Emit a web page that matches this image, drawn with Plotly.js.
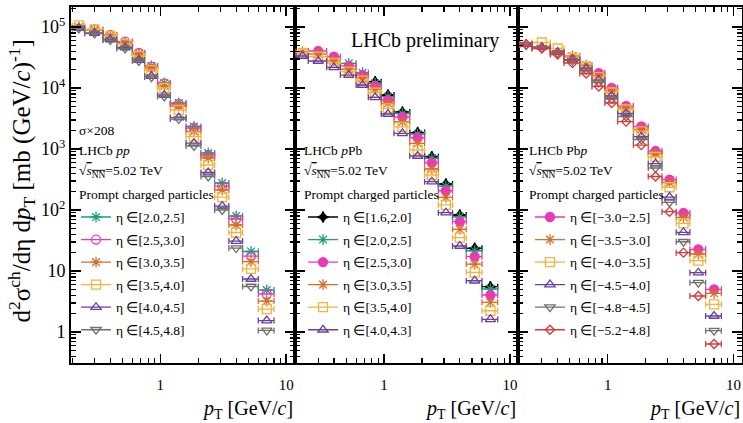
<!DOCTYPE html>
<html>
<head>
<meta charset="utf-8">
<script src="https://cdn.plot.ly/plotly-3.0.1.min.js"></script>
<style>html,body{margin:0;padding:0;background:#fff;}#plot{width:743px;height:423px;}</style>
</head>
<body>
<div id="plot"></div>
<script>
// pT bins [GeV/c]
const ptLow  = [0.2, 0.25, 0.35, 0.45, 0.6, 0.75, 0.95, 1.2, 1.6, 2.1, 2.7, 3.5, 4.5, 6.0];
const ptHigh = [0.25, 0.35, 0.45, 0.6, 0.75, 0.95, 1.2, 1.6, 2.1, 2.7, 3.5, 4.5, 6.0, 8.0];

// pp (sigma x 208)
const pp_eta20_25 = [null, null, null, 5.5e4, 3.7e4, 2.30e4, 1.21e4, 5680, 2340, 860, 277, 79.8, 20.9, 4.88];
const pp_eta25_30 = [null, 9.1e4, 7.4e4, 5.78e4, 3.75e4, 2.25e4, 1.19e4, 5470, 2210, 797, 247, 71.2, 17.6, 4.20];
const pp_eta30_35 = [1.0e5, 8.93e4, 7.26e4, 5.47e4, 3.54e4, 2.13e4, 1.08e4, 5070, 1940, 712, 213, 56.8, 14.3, 3.22];
const pp_eta35_40 = [1.06e5, 9.1e4, 7.12e4, 5.26e4, 3.35e4, 1.97e4, 1.0e4, 4360, 1600, 547, 163, 42.8, 10.8, 2.38];
const pp_eta40_45 = [9.63e4, 7.98e4, 6.24e4, 4.61e4, 2.88e4, 1.57e4, 7670, 3280, 1250, 412, 116, 31.0, 7.39, 1.54];
const pp_eta45_48 = [9.45e4, 7.82e4, 6.12e4, 4.44e4, 2.77e4, 1.51e4, 7260, 3100, 1120, 354, 100, 23.8, 5.57, 1.06];

// pPb
const pPb_eta16_20 = [null, null, null, null, null, 1.27e4, 7670, 4040, 1860, 748, 267, 82.8, 23.6, 5.53];
const pPb_eta20_25 = [null, null, null, 2.54e4, 1.78e4, 1.19e4, 7200, 3820, 1760, 704, 247, 77.6, 21.5, 5.07];
const pPb_eta25_30 = [null, 4.04e4, 3.26e4, 2.30e4, 1.63e4, 1.08e4, 6360, 3350, 1530, 596, 207, 64.3, 17.2, 4.04];
const pPb_eta30_35 = [3.94e4, 3.61e4, 2.80e4, 2.03e4, 1.44e4, 9520, 5610, 2800, 1240, 470, 161, 48.3, 13.0, 3.07];
const pPb_eta35_40 = [3.68e4, 3.26e4, 2.57e4, 1.85e4, 1.32e4, 8380, 4650, 2300, 963, 375, 121, 35.2, 9.52, 2.23];
const pPb_eta40_43 = [3.35e4, 2.77e4, 2.18e4, 1.63e4, 1.12e4, 7040, 3750, 1810, 768, 291, 90.3, 25.7, 6.93, 1.61];

// Pbp
const Pbp_etam30_25 = [null, null, null, null, null, 1.76e4, 1.0e4, 5070, 2340, 927, 316, 89.3, 22.7, 5.01];
const Pbp_etam35_30 = [null, null, null, 3.35e4, 2.38e4, 1.60e4, 9100, 4700, 2090, 844, 282, 75.9, 19.0, 4.31];
const Pbp_etam40_35 = [null, 5.57e4, 4.44e4, 3.16e4, 2.25e4, 1.51e4, 8440, 4440, 1940, 739, 236, 60.5, 14.8, 2.84];
const Pbp_etam45_40 = [5.26e4, 4.70e4, 3.89e4, 2.93e4, 2.09e4, 1.35e4, 7390, 3820, 1600, 578, 163, 43.1, 9.38, 1.83];
const Pbp_etam48_45 = [5.07e4, 4.53e4, 3.75e4, 2.82e4, 1.97e4, 1.23e4, 6600, 3410, 1430, 488, 133, 30.2, 6.43, 1.05];
const Pbp_etam52_48 = [5.16e4, 4.44e4, 3.54e4, 2.57e4, 1.73e4, 1.06e4, 5680, 2820, 1160, 354, 93.8, 20.0, 3.89, 0.636];

// legend labels
const ppNames  = ['η ∈[2.0,2.5]', 'η ∈[2.5,3.0]', 'η ∈[3.0,3.5]', 'η ∈[3.5,4.0]', 'η ∈[4.0,4.5]', 'η ∈[4.5,4.8]'];
const pPbNames = ['η ∈[1.6,2.0]', 'η ∈[2.0,2.5]', 'η ∈[2.5,3.0]', 'η ∈[3.0,3.5]', 'η ∈[3.5,4.0]', 'η ∈[4.0,4.3]'];
const PbpNames = ['η ∈[−3.0−2.5]', 'η ∈[−3.5−3.0]', 'η ∈[−4.0−3.5]', 'η ∈[−4.5−4.0]', 'η ∈[−4.8−4.5]', 'η ∈[−5.2−4.8]'];

// tick labels
const xTickVals = [1, 10];
const xTickText = ['1', '10'];
const xMinorVals = [0.2, 0.3, 0.4, 0.5, 0.6, 0.7, 0.8, 0.9, 2, 3, 4, 5, 6, 7, 8, 9];
const yTickVals = [1, 10, 100, 1000, 10000, 100000];
const yTickText = ['1', '10', '10<sup>2</sup>', '10<sup>3</sup>', '10<sup>4</sup>', '10<sup>5</sup>'];
const yMinorVals = [0.4, 0.5, 0.6, 0.7, 0.8, 0.9,
  2, 3, 4, 5, 6, 7, 8, 9,
  20, 30, 40, 50, 60, 70, 80, 90,
  200, 300, 400, 500, 600, 700, 800, 900,
  2000, 3000, 4000, 5000, 6000, 7000, 8000, 9000,
  20000, 30000, 40000, 50000, 60000, 70000, 80000, 90000, 200000];

const C = {
  green: '#1b9e77', magenta: '#e83ab5', orange: '#d96d2b', yellow: '#f2b43a',
  purple: '#6b3fa0', gray: '#707070', black: '#000000', red: '#d73b3b'
};

const ptCenter = ptLow.map((lo, i) => (lo + ptHigh[i]) / 2);
const ptHalf = ptLow.map((lo, i) => (ptHigh[i] - lo) / 2);

const traces = [];
function addSeries(xa, ya, y, name, color, symbol, size, legendId) {
  const marker = {symbol: symbol, size: size, color: color, line: {color: color, width: 1.3}};
  traces.push({
    type: 'scatter', mode: 'markers', x: ptCenter, y: y, xaxis: xa, yaxis: ya,
    error_x: {type: 'data', symmetric: true, array: ptHalf, color: color, thickness: 1.3, width: 3},
    marker: marker, showlegend: false, hoverinfo: 'skip'
  });
  traces.push({
    type: 'scatter', mode: 'lines+markers', x: [null], y: [null], xaxis: xa, yaxis: ya,
    name: name, legend: legendId, legendgroup: legendId + name,
    line: {color: color, width: 1.3}, marker: marker, hoverinfo: 'skip'
  });
}

addSeries('x', 'y', pp_eta20_25, ppNames[0], C.green, 'asterisk-open', 9, 'legend');
addSeries('x', 'y', pp_eta25_30, ppNames[1], C.magenta, 'circle-open', 9, 'legend');
addSeries('x', 'y', pp_eta30_35, ppNames[2], C.orange, 'asterisk-open', 9, 'legend');
addSeries('x', 'y', pp_eta35_40, ppNames[3], C.yellow, 'square-open', 9, 'legend');
addSeries('x', 'y', pp_eta40_45, ppNames[4], C.purple, 'triangle-up-open', 9, 'legend');
addSeries('x', 'y', pp_eta45_48, ppNames[5], C.gray, 'triangle-down-open', 9, 'legend');

addSeries('x2', 'y2', pPb_eta16_20, pPbNames[0], C.black, 'star-diamond', 8, 'legend2');
addSeries('x2', 'y2', pPb_eta20_25, pPbNames[1], C.green, 'asterisk-open', 9, 'legend2');
addSeries('x2', 'y2', pPb_eta25_30, pPbNames[2], C.magenta, 'circle', 9, 'legend2');
addSeries('x2', 'y2', pPb_eta30_35, pPbNames[3], C.orange, 'asterisk-open', 9, 'legend2');
addSeries('x2', 'y2', pPb_eta35_40, pPbNames[4], C.yellow, 'square-open', 9, 'legend2');
addSeries('x2', 'y2', pPb_eta40_43, pPbNames[5], C.purple, 'triangle-up-open', 9, 'legend2');

addSeries('x3', 'y3', Pbp_etam30_25, PbpNames[0], C.magenta, 'circle', 9, 'legend3');
addSeries('x3', 'y3', Pbp_etam35_30, PbpNames[1], C.orange, 'asterisk-open', 9, 'legend3');
addSeries('x3', 'y3', Pbp_etam40_35, PbpNames[2], C.yellow, 'square-open', 9, 'legend3');
addSeries('x3', 'y3', Pbp_etam45_40, PbpNames[3], C.purple, 'triangle-up-open', 9, 'legend3');
addSeries('x3', 'y3', Pbp_etam48_45, PbpNames[4], C.gray, 'triangle-down-open', 9, 'legend3');
addSeries('x3', 'y3', Pbp_etam52_48, PbpNames[5], C.red, 'diamond-open', 7, 'legend3');

const FONT = 'Liberation Serif, Times New Roman, serif';

function xAxis(domain, anchor) {
  return {
    type: 'log', range: [-0.71, 1.067], domain: domain, anchor: anchor,
    tickmode: 'array', tickvals: xTickVals, ticktext: xTickText,
    ticks: 'inside', ticklen: 9, tickwidth: 1.5, tickcolor: '#000',
    ticklabelstandoff: 7,
    minor: {tickmode: 'array', tickvals: xMinorVals, ticks: 'inside', ticklen: 5, tickwidth: 1.2, tickcolor: '#000', showgrid: false},
    showline: true, linewidth: 2, linecolor: '#000', mirror: 'allticks',
    showgrid: false, zeroline: false, tickfont: {size: 15, family: FONT, color: '#000'}
  };
}
function yAxis(anchor, labels) {
  return {
    type: 'log', range: [-0.508, 5.328], anchor: anchor,
    tickmode: 'array', tickvals: yTickVals, ticktext: yTickText,
    ticks: 'inside', ticklen: 10, tickwidth: 1.5, tickcolor: '#000',
    showticklabels: labels,
    minor: {tickmode: 'array', tickvals: yMinorVals, ticks: 'inside', ticklen: 5, tickwidth: 1.2, tickcolor: '#000', showgrid: false},
    showline: true, linewidth: 2, linecolor: '#000', mirror: 'allticks',
    showgrid: false, zeroline: false, tickfont: {size: 18, family: FONT, color: '#000'}
  };
}

function legendAt(x) {
  return {x: x, y: 0.453, xanchor: 'left', yanchor: 'top', bgcolor: 'rgba(0,0,0,0)',
    borderwidth: 0, font: {size: 13.5, family: FONT, color: '#000'}, tracegroupgap: 2, itemwidth: 30};
}

const textSize = 13.5;
function txt(x, y, t, size) {
  return {xref: 'paper', yref: 'paper', x: x, y: y, xanchor: 'left', yanchor: 'middle',
    text: t, showarrow: false, font: {size: size || textSize, family: FONT, color: '#000'}};
}
const sqrtS = '√<span style="text-decoration:overline"><i>s</i><sub>NN</sub></span>=5.02 TeV';
// paper y from pixel: (363 - py)/356 ; paper x: (px - 71)/671
const annotations = [
  txt(0.0089, 0.653, 'σ×208'),
  txt(0.0089, 0.598, 'LHCb <i>pp</i>'),
  txt(0.0089, 0.537, sqrtS),
  txt(0.0089, 0.472, 'Prompt charged particles'),
  txt(0.3438, 0.598, 'LHCb <i>p</i>Pb'),
  txt(0.3438, 0.537, sqrtS),
  txt(0.3438, 0.472, 'Prompt charged particles'),
  txt(0.679, 0.598, 'LHCb Pb<i>p</i>'),
  txt(0.679, 0.537, sqrtS),
  txt(0.679, 0.472, 'Prompt charged particles'),
  {xref: 'paper', yref: 'paper', x: 0.415, y: 0.907, xanchor: 'left', yanchor: 'middle',
    text: 'LHCb preliminary', showarrow: false, font: {size: 20, family: FONT, color: '#000'}},
  {xref: 'paper', yref: 'paper', x: 1/3, y: -0.13, xanchor: 'right', yanchor: 'middle',
    text: '<i>p</i><sub>T</sub> [GeV/<i>c</i>]', showarrow: false, font: {size: 20, family: FONT, color: '#000'}},
  {xref: 'paper', yref: 'paper', x: 2/3, y: -0.13, xanchor: 'right', yanchor: 'middle',
    text: '<i>p</i><sub>T</sub> [GeV/<i>c</i>]', showarrow: false, font: {size: 20, family: FONT, color: '#000'}},
  {xref: 'paper', yref: 'paper', x: 1, y: -0.13, xanchor: 'right', yanchor: 'middle',
    text: '<i>p</i><sub>T</sub> [GeV/<i>c</i>]', showarrow: false, font: {size: 20, family: FONT, color: '#000'}},
  {xref: 'paper', yref: 'paper', x: -0.073, y: 0.51, xanchor: 'center', yanchor: 'middle', textangle: -90,
    text: 'd<sup>2</sup>σ<sup>ch</sup>/dη d<i>p</i><sub>T</sub> [mb (GeV/<i>c</i>)<sup>-1</sup>]',
    showarrow: false, font: {size: 25, family: FONT, color: '#000'}}
];

const layout = {
  width: 743, height: 423,
  margin: {l: 71, r: 1, t: 7, b: 60, pad: 0},
  paper_bgcolor: '#fff', plot_bgcolor: '#fff',
  font: {family: FONT, color: '#000'},
  showlegend: true,
  xaxis: xAxis([0, 1/3], 'y'),
  xaxis2: xAxis([1/3, 2/3], 'y2'),
  xaxis3: xAxis([2/3, 1], 'y3'),
  yaxis: yAxis('x', true),
  yaxis2: yAxis('x2', false),
  yaxis3: yAxis('x3', false),
  legend: legendAt(0.0075),
  legend2: legendAt(0.3458),
  legend3: legendAt(0.684),
  annotations: annotations
};

Plotly.newPlot('plot', traces, layout, {staticPlot: true, displayModeBar: false});
</script>
</body>
</html>
